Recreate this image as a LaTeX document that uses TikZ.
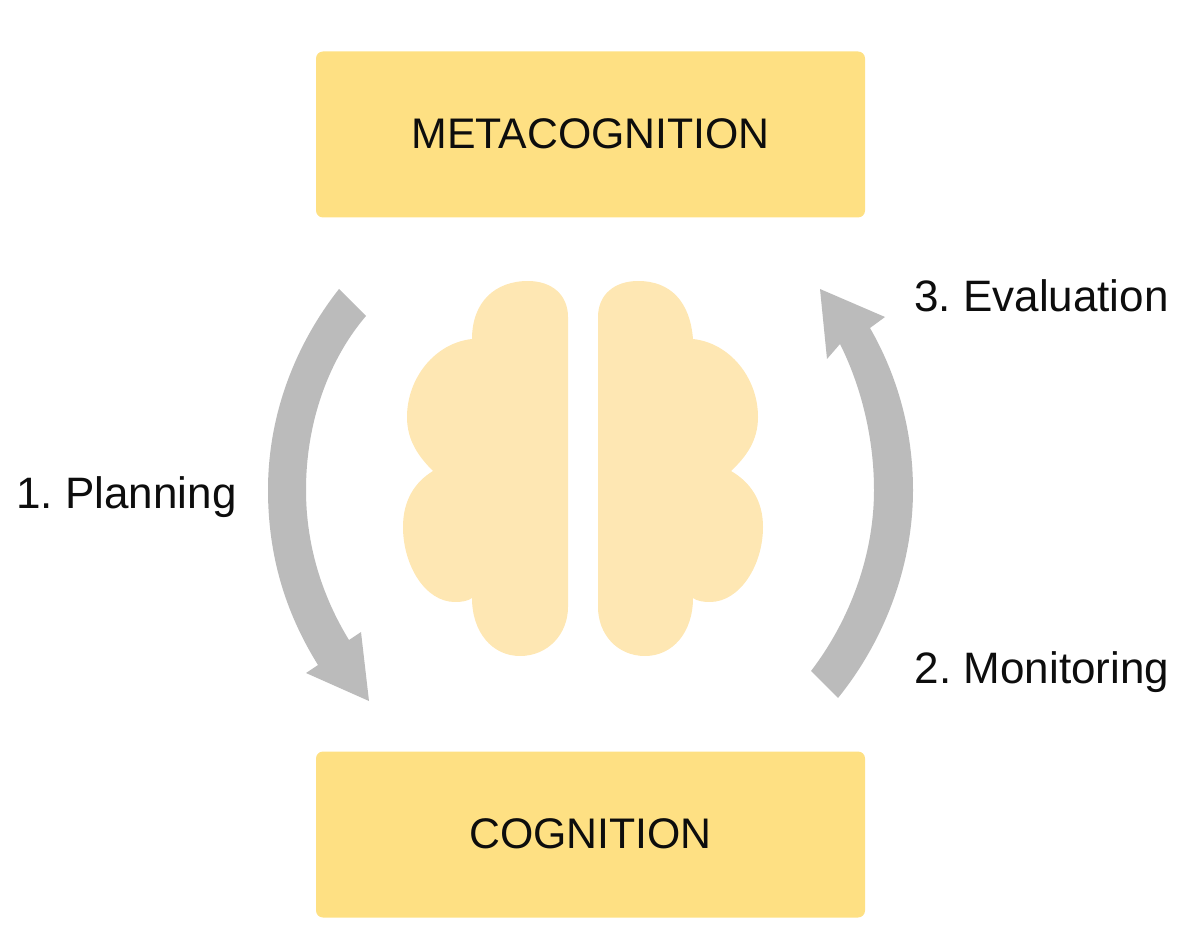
\documentclass[tikz,border=0pt]{standalone}
\usepackage{fontspec}
\setmainfont{Liberation Sans}
\definecolor{boxc}{HTML}{FEE083}
\definecolor{brainc}{HTML}{FEE7B3}
\definecolor{arrowc}{HTML}{BBBBBB}
\tikzset{
  boxn/.style={fill=boxc,rounded corners=7pt,minimum width=549pt,minimum height=166pt,inner sep=0pt,font=\fontsize{42.8}{48}\selectfont,text=black!95},
  labeln/.style={inner sep=0pt,font=\fontsize{44}{48}\selectfont,text=black!95},
  brainp/.style={fill=brainc,draw=none},
  arrowp/.style={fill=arrowc,draw=none}
}
\begin{document}
\frenchspacing
\begin{tikzpicture}[x=1pt,y=-1pt]
\useasboundingbox (0,0) rectangle (1200,949);
\node[boxn] (meta) at (590.5,134.5) {\raisebox{1.5pt}{METACOGNITION}};
\node[boxn] (cog) at (590.5,834.5) {\raisebox{1pt}{COGNITION}};
\node[labeln] (plan) at (126.5,497) {1. Planning};
\node[labeln] (mon) at (1042,672) {2. Monitoring};
\node[labeln] (eval) at (1041.5,296) {3. Evaluation};
% left brain
\fill[brainp] (568,317) .. controls (568,295) and (552,281) .. (528,281)
 .. controls (495,281) and (472,302) .. (472,339)
 .. controls (435,343) and (407,378) .. (407,417)
 .. controls (407,440) and (418,456) .. (433,471)
 .. controls (415,482) and (403,500) .. (403,527)
 .. controls (403,565) and (425,602) .. (455,602)
 .. controls (462,602) and (468,601) .. (472,598)
 .. controls (472,632) and (492,656) .. (520,656)
 .. controls (548,656) and (568,634) .. (568,607) -- cycle;
% right brain
\fill[brainp] (598,317) .. controls (598,295) and (614,281) .. (638,281)
 .. controls (671,281) and (690,302) .. (693,339)
 .. controls (730,343) and (758,378) .. (758,417)
 .. controls (758,440) and (747,456) .. (731,471)
 .. controls (750,482) and (763,500) .. (763,527)
 .. controls (763,565) and (740,602) .. (710,602)
 .. controls (703,602) and (697,601) .. (693,598)
 .. controls (693,632) and (673,656) .. (645,656)
 .. controls (617,656) and (598,634) .. (598,607) -- cycle;
% left arrow
\fill[arrowp] (339,289) -- (366,316)
 .. controls (330,358) and (306,420) .. (306,490)
 .. controls (306,545) and (322,596) .. (349,640)
 -- (361,632) -- (369,701) -- (306,673) -- (318,665)
 .. controls (285,612) and (268,555) .. (268,490)
 .. controls (268,415) and (295,345) .. (339,289) -- cycle;
% right arrow
\fill[arrowp] (811,671) -- (838,698)
 .. controls (885,640) and (913,565) .. (913,490)
 .. controls (913,430) and (897,375) .. (870,328)
 -- (885,317) -- (820,289) -- (827,359) -- (840,344)
 .. controls (862,388) and (874,440) .. (874,490)
 .. controls (874,555) and (850,620) .. (811,671) -- cycle;
\end{tikzpicture}
\end{document}
